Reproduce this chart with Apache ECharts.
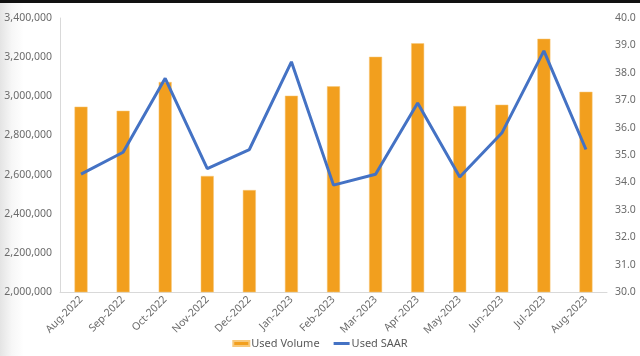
<!DOCTYPE html>
<html><head><meta charset="utf-8">
<script src="https://cdn.jsdelivr.net/npm/echarts@6/dist/echarts.min.js"></script>
<style>
html,body{margin:0;padding:0;}
body{width:640px;height:356px;overflow:hidden;background:linear-gradient(to right,#e4e4e4 0px,#f7f7f7 12px,#ffffff 24px);}
#top{position:absolute;left:0;top:0;width:640px;height:3px;background:#111;}
#c{position:absolute;left:0;top:0;width:640px;height:356px;}
</style></head>
<body><div id="c"></div><div id="top"></div>
<script>
const categories = ['Aug-2022','Sep-2022','Oct-2022','Nov-2022','Dec-2022','Jan-2023','Feb-2023','Mar-2023','Apr-2023','May-2023','Jun-2023','Jul-2023','Aug-2023'];
const usedVolume = [2947000,2926000,3073000,2593000,2521000,3003000,3051000,3202000,3271000,2950000,2957000,3294000,3023000];
const usedSAAR = [34.3,35.1,37.8,34.5,35.2,38.4,33.9,34.3,36.9,34.2,35.8,38.8,35.2];

const chart = echarts.init(document.getElementById('c'), null, {renderer:'canvas'});
const fontFamily = 'Noto Sans';
const labelColor = '#6b6b6b';
chart.setOption({
  animation:false,
  textStyle:{fontFamily:fontFamily},
  grid:{left:60,right:33,top:18,bottom:64,containLabel:false},
  legend:{
    bottom:2,left:'center',itemGap:14,itemWidth:16,itemHeight:5,
    textStyle:{color:'#595959',fontSize:11,fontFamily:fontFamily,padding:[0,0,0,-3]},
    data:[
      {name:'Used Volume',icon:'rect'},
      {name:'Used SAAR',icon:'path://M0,0 L16,0 L16,3 L0,3 Z'}
    ]
  },
  xAxis:{
    type:'category',data:categories,
    axisLine:{lineStyle:{color:'#d9d9d9',width:1}},
    axisTick:{show:false},
    axisLabel:{rotate:45,color:labelColor,fontSize:10.5,margin:6,interval:0}
  },
  yAxis:[{
    type:'value',min:2000000,max:3400000,interval:200000,
    axisLine:{show:true,lineStyle:{color:'#d9d9d9'}},
    axisTick:{show:false},splitLine:{show:false},
    axisLabel:{color:labelColor,fontSize:10.5,margin:8,
      formatter:v=>v.toLocaleString('en-US')}
  },{
    type:'value',min:30,max:40,interval:1,position:'right',
    axisLine:{show:false},axisTick:{show:false},splitLine:{show:false},
    axisLabel:{color:labelColor,fontSize:10.5,margin:8,formatter:v=>v.toFixed(1)}
  }],
  series:[{
    name:'Used Volume',type:'bar',data:usedVolume,barWidth:13,
    itemStyle:{color:'#F29F1E',borderColor:'#F7C87A',borderWidth:0.5}
  },{
    name:'Used SAAR',type:'line',yAxisIndex:1,data:usedSAAR,
    symbol:'none',lineStyle:{color:'#4472C4',width:3},itemStyle:{color:'#4472C4'}
  }]
});
</script></body></html>
